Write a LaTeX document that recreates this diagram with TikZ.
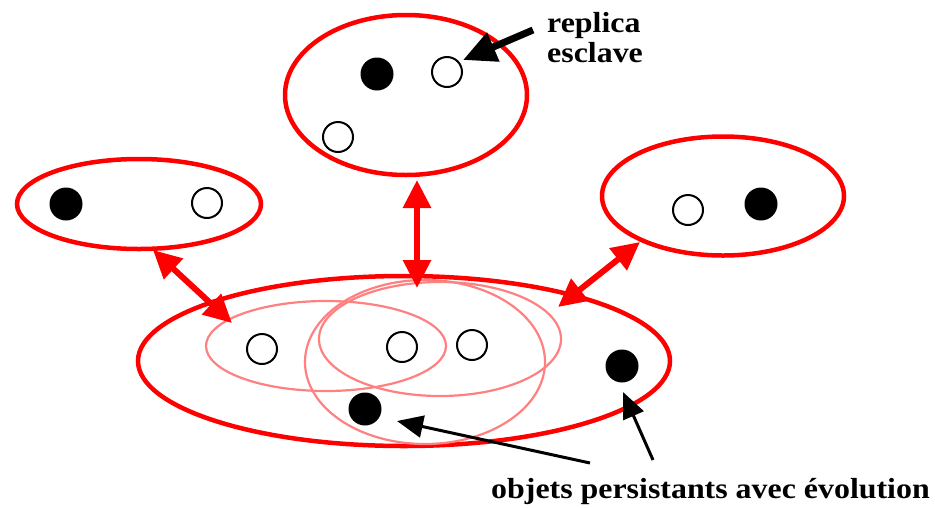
\documentclass[tikz,border=0pt]{standalone}
\usepackage{fontspec}
\setmainfont{Liberation Serif}
\usetikzlibrary{arrows.meta,shapes.geometric}
\definecolor{myred}{RGB}{255,0,0}
\definecolor{mypink}{RGB}{255,128,128}
\begin{document}
\begin{tikzpicture}[x=1pt,y=-1pt,
  grp/.style={draw=myred, line width=4.5pt, ellipse, inner sep=0pt, outer sep=0pt},
  sub/.style={draw=mypink, line width=2.2pt, ellipse, inner sep=0pt, outer sep=0pt},
  full/.style={circle, fill=black, minimum size=33pt, inner sep=0pt},
  hollow/.style={circle, draw=black, line width=2pt, minimum size=30pt, inner sep=0pt},
  redarr/.style={draw=myred, line width=6pt, {Triangle[length=28pt,width=27pt]}-{Triangle[length=28pt,width=27pt]}},
  blkarr/.style={draw=black, line width=3pt, -{Triangle[length=26pt,width=22pt]}},
  bigarr/.style={draw=black, line width=7pt, -{Triangle[length=33pt,width=30pt]}},
  lbl/.style={inner sep=0pt, anchor=base west, font=\bfseries\fontsize{29}{32}\selectfont}]
\useasboundingbox (0,0) rectangle (935,507);
% groups
\node[grp, minimum width=242pt, minimum height=160pt] (top) at (406,95) {};
\node[grp, minimum width=244pt, minimum height=90pt] (left) at (139,204) {};
\node[grp, minimum width=242pt, minimum height=119pt] (right) at (723,196) {};
\node[grp, minimum width=532pt, minimum height=170pt] (bottom) at (404,361) {};
% sub groups
\node[sub, minimum width=240pt, minimum height=90pt] (s1) at (326,346) {};
\node[sub, minimum width=242pt, minimum height=114pt] (s2) at (440,339) {};
\node[sub, minimum width=240pt, minimum height=164pt] (s3) at (425,362) {};
% objects
\node[full] (t1) at (377,74) {};
\node[hollow] (t2) at (447,72) {};
\node[hollow] (t3) at (338,137) {};
\node[full] (l1) at (66,204) {};
\node[hollow] (l2) at (207,203) {};
\node[hollow] (r1) at (688,210) {};
\node[full] (r2) at (761,204) {};
\node[hollow] (b1) at (262,349) {};
\node[hollow] (b2) at (402,347) {};
\node[hollow] (b3) at (472,345) {};
\node[full] (b4) at (622,366) {};
\node[full] (b5) at (365,409) {};
% labels
\node[lbl] (lab1) at (547,32) {\scalebox{1.1}[1]{replica}};
\node[lbl] (lab2) at (547,62) {\scalebox{1.1}[1]{esclave}};
\node[lbl] (lab3) at (491,498) {\scalebox{1.1}[1]{objets persistants avec évolution}};
% connector end points
\coordinate (va) at (417,180);
\coordinate (vb) at (417,288);
\coordinate (la) at (153,250);
\coordinate (lb) at (232,323);
\coordinate (ra) at (640,242);
\coordinate (rb) at (558,307);
\coordinate (rep0) at (533,30);
\coordinate (rep1) at (463,60);
\coordinate (p0) at (590,463);
\coordinate (p1) at (397,421);
\coordinate (q0) at (653,460);
\coordinate (q1) at (623,392);
% connectors
\draw[redarr] (va) -- (vb);
\draw[redarr] (la) -- (lb);
\draw[redarr] (ra) -- (rb);
\draw[bigarr] (rep0) -- (rep1);
\draw[blkarr] (p0) -- (p1);
\draw[blkarr] (q0) -- (q1);
\end{tikzpicture}
\end{document}
